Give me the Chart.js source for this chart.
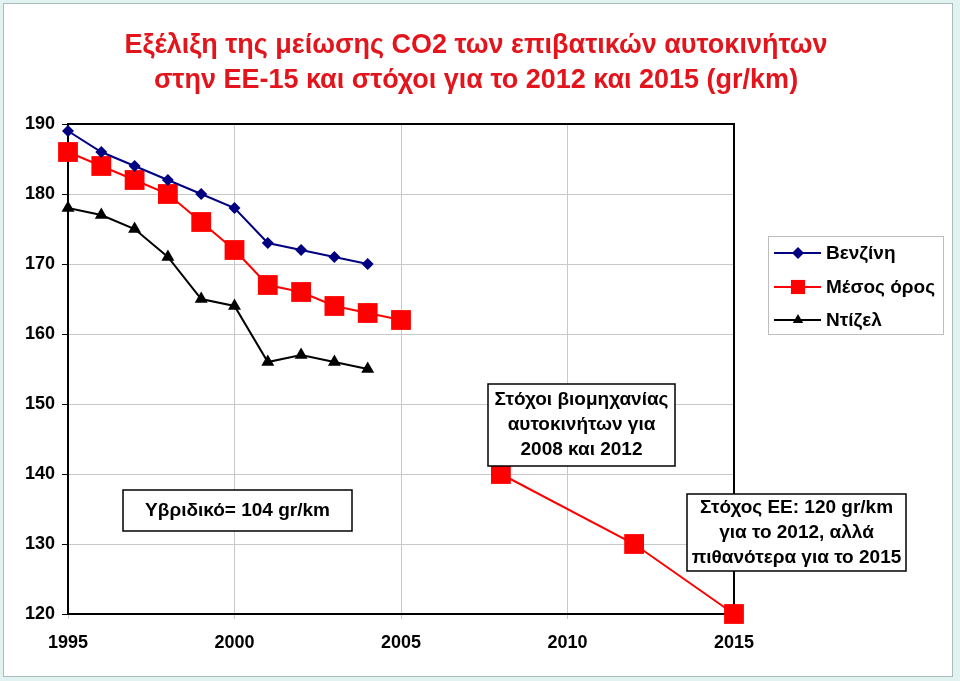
<!DOCTYPE html>
<html>
<head>
<meta charset="utf-8">
<script src="https://cdn.jsdelivr.net/npm/chart.js@4/dist/chart.umd.min.js"></script>
<style>
  html, body { margin: 0; padding: 0; background: #fff; }
  #wrap { width: 960px; height: 681px; }
</style>
</head>
<body>
<div id="wrap"><canvas id="co2"></canvas></div>
<script>
// data (gr/km)
const years = [1995, 1996, 1997, 1998, 1999, 2000, 2001, 2002, 2003, 2004];
const petrol = [189, 186, 184, 182, 180, 178, 173, 172, 171, 170];
const diesel = [178, 177, 175, 171, 165, 164, 156, 157, 156, 155];
// average incl. industry / EU targets, null = gap in line
const avgYears = [1995, 1996, 1997, 1998, 1999, 2000, 2001, 2002, 2003, 2004, 2005, 2006, 2008, 2012, 2015];
const average = [186, 184, 182, 180, 176, 172, 167, 166, 164, 163, 162, null, 140, 130, 120];

const seriesNames = ['Βενζίνη', 'Μέσος όρος', 'Ντίζελ'];
const titleLines = [
  'Εξέλιξη της μείωσης CO2 των επιβατικών αυτοκινήτων',
  'στην ΕΕ-15 και στόχοι για το 2012 και 2015 (gr/km)'
];
const notes = [
  { lines: ['Στόχοι βιομηχανίας', 'αυτοκινήτων για', '2008 και 2012'], box: [488, 384, 187, 82] },
  { lines: ['Υβριδικό= 104 gr/km'], box: [123, 490, 229, 41] },
  { lines: ['Στόχος ΕΕ: 120 gr/km', 'για το 2012, αλλά', 'πιθανότερα για το 2015'], box: [687, 494, 219, 77] }
];

const FONT = "'Liberation Sans', Arial, sans-serif";
const toXY = (xs, ys) => xs.map((x, i) => ({ x: x, y: ys[i] }));

const markers = [
  { color: '#000080', style: 'rectRot', radius: 6, legendRadius: 6 },
  { color: '#ff0000', style: 'rect', radius: 14, legendRadius: 10 },
  { color: '#000000', style: 'triangle', radius: 7.5, legendRadius: 6 }
];

const decor = {
  id: 'decor',
  beforeDraw(chart) {
    const ctx = chart.ctx;
    ctx.save();
    ctx.fillStyle = '#e2f2f0';
    ctx.fillRect(0, 0, chart.width, chart.height);
    ctx.fillStyle = '#fff';
    ctx.fillRect(3, 3, 950, 674);
    ctx.strokeStyle = '#a9bcbc';
    ctx.lineWidth = 1;
    ctx.strokeRect(3.5, 3.5, 949, 673);

    ctx.fillStyle = '#e3141b';
    ctx.font = 'bold 27px ' + FONT;
    ctx.textAlign = 'center';
    ctx.textBaseline = 'middle';
    ctx.fillText(titleLines[0], 476, 46);
    ctx.fillText(titleLines[1], 476, 81);
    ctx.restore();
  },
  beforeDatasetsDraw(chart) {
    const a = chart.chartArea;
    const ctx = chart.ctx;
    ctx.save();
    ctx.strokeStyle = '#000';
    ctx.lineWidth = 2;
    ctx.strokeRect(a.left, a.top, a.right - a.left, a.bottom - a.top);
    ctx.restore();
  },
  afterDraw(chart) {
    const ctx = chart.ctx;
    ctx.save();
    // text boxes
    notes.forEach(n => {
      const [x, y, w, h] = n.box;
      ctx.fillStyle = '#fff';
      ctx.fillRect(x, y, w, h);
      ctx.strokeStyle = '#000';
      ctx.lineWidth = 1.5;
      ctx.strokeRect(x, y, w, h);
      ctx.fillStyle = '#000';
      ctx.font = 'bold 19px ' + FONT;
      ctx.textAlign = 'center';
      ctx.textBaseline = 'middle';
      const lh = 25;
      const y0 = y + h / 2 - (n.lines.length - 1) * lh / 2;
      n.lines.forEach((t, i) => ctx.fillText(t, x + w / 2, y0 + i * lh));
    });

    // legend
    ctx.fillStyle = '#fff';
    ctx.fillRect(768, 236, 175, 98);
    ctx.strokeStyle = '#bdbdbd';
    ctx.lineWidth = 1;
    ctx.strokeRect(768.5, 236.5, 175, 98);
    const rows = [253, 287, 320];
    seriesNames.forEach((name, i) => {
      const m = markers[i];
      const yy = rows[i];
      ctx.strokeStyle = m.color;
      ctx.lineWidth = 2;
      ctx.beginPath();
      ctx.moveTo(774, yy);
      ctx.lineTo(821, yy);
      ctx.stroke();
      ctx.fillStyle = m.color;
      Chart.helpers.drawPoint(ctx, { pointStyle: m.style, radius: m.legendRadius, rotation: 0, borderWidth: 0 }, 798, yy);
      ctx.fillStyle = '#000';
      ctx.font = 'bold 19px ' + FONT;
      ctx.textAlign = 'left';
      ctx.textBaseline = 'middle';
      ctx.fillText(name, 826, yy + 1);
    });
    ctx.restore();
  }
};

const dataset = (label, pts, m) => ({
  label: label,
  data: pts,
  borderColor: m.color,
  backgroundColor: m.color,
  borderWidth: 2,
  pointStyle: m.style,
  pointRadius: m.radius,
  pointBorderWidth: 0,
  pointBackgroundColor: m.color,
  spanGaps: false,
  tension: 0,
  clip: false
});

new Chart(document.getElementById('co2'), {
  type: 'line',
  data: {
    datasets: [
      dataset(seriesNames[0], toXY(years, petrol), markers[0]),
      dataset(seriesNames[1], toXY(avgYears, average), markers[1]),
      dataset(seriesNames[2], toXY(years, diesel), markers[2])
    ]
  },
  options: {
    responsive: true,
    maintainAspectRatio: false,
    animation: false,
    layout: { padding: { left: 10, right: 226, top: 124, bottom: 17 } },
    plugins: {
      legend: { display: false },
      tooltip: { enabled: false }
    },
    scales: {
      x: {
        type: 'linear',
        min: 1995,
        max: 2015,
        afterFit(scale) { scale.height = 50; },
        ticks: {
          stepSize: 5,
          color: '#000',
          padding: 13,
          font: { family: FONT, size: 18, weight: 'bold' },
          callback: v => String(v)
        },
        grid: { color: '#c8c8c8', tickLength: 5, tickColor: '#c8c8c8' },
        border: { display: false }
      },
      y: {
        min: 120,
        max: 190,
        afterFit(scale) { scale.width = 58; },
        ticks: {
          stepSize: 10,
          color: '#000',
          padding: 7,
          font: { family: FONT, size: 18, weight: 'bold' }
        },
        grid: { color: '#c8c8c8', tickLength: 6, tickColor: '#000' },
        border: { display: false }
      }
    }
  },
  plugins: [decor]
});
</script>
</body>
</html>
